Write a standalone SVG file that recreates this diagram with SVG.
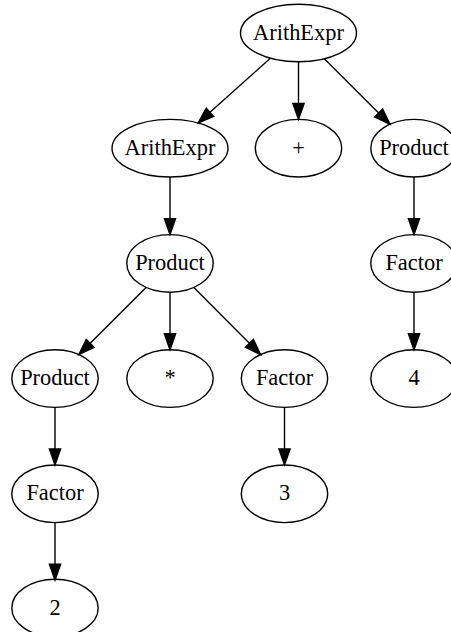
<svg xmlns="http://www.w3.org/2000/svg" width="451" height="632" viewBox="0 0 451 632">
  <style>
    .node ellipse { fill: none; stroke: #000; stroke-width: 1.4; }
    .node text { font-family: 'Liberation Serif', 'Times New Roman', Times, 'DejaVu Serif', serif; font-size: 22.4px; text-anchor: middle; fill: #000; }
    .edge { stroke: #000; stroke-width: 1.4; fill: none; marker-end: url(#arrow); }
  </style>
  <defs>
    <marker id="arrow" markerUnits="userSpaceOnUse" markerWidth="20" markerHeight="14" refX="0" refY="0" orient="auto" viewBox="0 -7 20 14" overflow="visible">
      <path d="M0,-5.6 L16,0 L0,5.6 Z" fill="#000" stroke="#000" stroke-width="1.4"/>
    </marker>
  </defs>
  <rect width="451" height="632" fill="#fff"/>

  <g id="edges">
    <line class="edge" x1="270.4" y1="58.2" x2="210" y2="112.3"/>
    <line class="edge" x1="298.5" y1="61.8" x2="298.5" y2="103.4"/>
    <line class="edge" x1="324.4" y1="58.8" x2="378.7" y2="113"/>
    <line class="edge" x1="170" y1="177" x2="170" y2="218.6"/>
    <line class="edge" x1="414" y1="177" x2="414" y2="218.6"/>
    <line class="edge" x1="146.1" y1="287.4" x2="90.2" y2="343.3"/>
    <line class="edge" x1="170" y1="292.2" x2="170" y2="333.8"/>
    <line class="edge" x1="193.9" y1="287.4" x2="249.4" y2="343.3"/>
    <line class="edge" x1="414" y1="292.2" x2="414" y2="333.8"/>
    <line class="edge" x1="55" y1="407.4" x2="55" y2="449"/>
    <line class="edge" x1="284.5" y1="407.4" x2="284.5" y2="449"/>
    <line class="edge" x1="55" y1="522.6" x2="55" y2="564.2"/>
  </g>

  <g id="arith_root" class="node">
    <ellipse cx="298.5" cy="33" rx="58" ry="28.8"/>
    <text x="298.5" y="39.5" font-family="Liberation Serif, serif">ArithExpr</text>
  </g>
  <g id="arith_left" class="node">
    <ellipse cx="170" cy="148.2" rx="58" ry="28.8"/>
    <text x="170" y="154.7" font-family="Liberation Serif, serif">ArithExpr</text>
  </g>
  <g id="plus" class="node">
    <ellipse cx="298.5" cy="148.2" rx="43.2" ry="28.8"/>
    <text x="298.5" y="154.7" font-family="Liberation Serif, serif">+</text>
  </g>
  <g id="product_right" class="node">
    <ellipse cx="414" cy="148.2" rx="43.2" ry="28.8"/>
    <text x="414" y="154.7" font-family="Liberation Serif, serif">Product</text>
  </g>
  <g id="product_mid" class="node">
    <ellipse cx="170" cy="263.4" rx="43.2" ry="28.8"/>
    <text x="170" y="269.9" font-family="Liberation Serif, serif">Product</text>
  </g>
  <g id="factor_right" class="node">
    <ellipse cx="414" cy="263.4" rx="43.2" ry="28.8"/>
    <text x="414" y="269.9" font-family="Liberation Serif, serif">Factor</text>
  </g>
  <g id="product_left" class="node">
    <ellipse cx="55" cy="378.6" rx="43.2" ry="28.8"/>
    <text x="55" y="385.1" font-family="Liberation Serif, serif">Product</text>
  </g>
  <g id="times" class="node">
    <ellipse cx="170" cy="378.6" rx="43.2" ry="28.8"/>
    <text x="170" y="385.1" font-family="Liberation Serif, serif">*</text>
  </g>
  <g id="factor_mid" class="node">
    <ellipse cx="284.5" cy="378.6" rx="43.2" ry="28.8"/>
    <text x="284.5" y="385.1" font-family="Liberation Serif, serif">Factor</text>
  </g>
  <g id="num_4" class="node">
    <ellipse cx="414" cy="378.6" rx="43.2" ry="28.8"/>
    <text x="414" y="385.1" font-family="Liberation Serif, serif">4</text>
  </g>
  <g id="factor_left" class="node">
    <ellipse cx="55" cy="493.8" rx="43.2" ry="28.8"/>
    <text x="55" y="500.3" font-family="Liberation Serif, serif">Factor</text>
  </g>
  <g id="num_3" class="node">
    <ellipse cx="284.5" cy="493.8" rx="43.2" ry="28.8"/>
    <text x="284.5" y="500.3" font-family="Liberation Serif, serif">3</text>
  </g>
  <g id="num_2" class="node">
    <ellipse cx="55" cy="608" rx="43.2" ry="28.8"/>
    <text x="55" y="614.5" font-family="Liberation Serif, serif">2</text>
  </g>
</svg>
